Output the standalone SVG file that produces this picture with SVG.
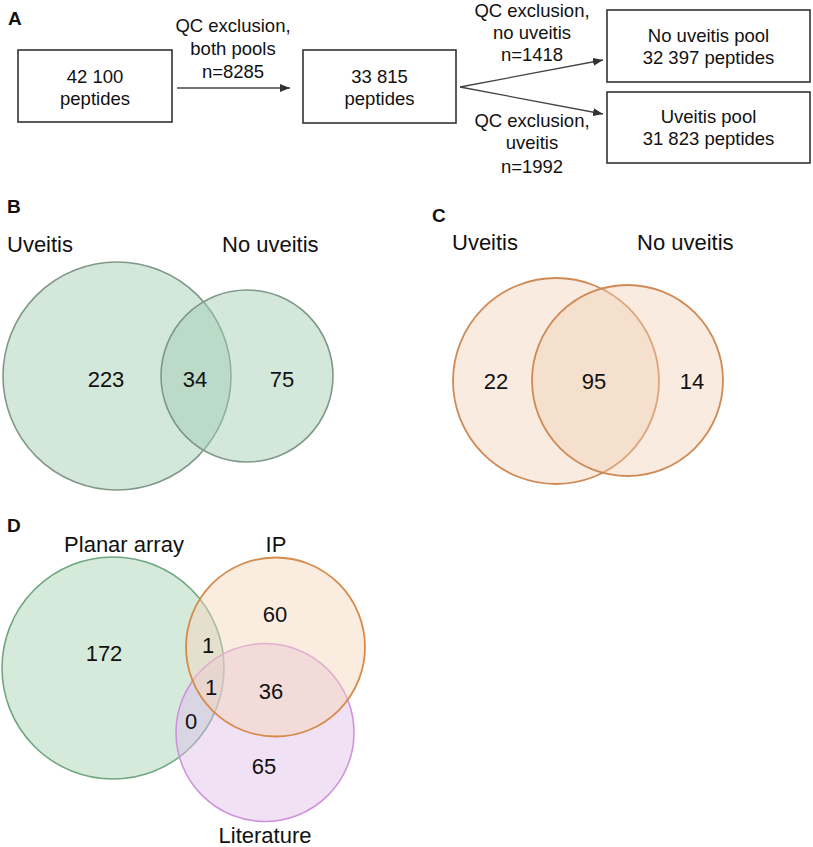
<svg xmlns="http://www.w3.org/2000/svg" width="813" height="847" viewBox="0 0 813 847">
<defs>
<marker id="arr" viewBox="0 0 10 8" refX="10" refY="4" markerWidth="10" markerHeight="8" markerUnits="userSpaceOnUse" orient="auto">
<path d="M0,0 L10,4 L0,8 Z" fill="#333"/>
</marker>
</defs>
<style>
text{font-family:"Liberation Sans",Arial,sans-serif;fill:#111}
.a{font-size:18.5px;text-anchor:middle}
.v{font-size:22px}
.m{text-anchor:middle}
.L{font-size:19px;font-weight:bold}
.box{fill:#fff;stroke:#333;stroke-width:1.6}
.con{stroke:#444;stroke-width:1.3;fill:none}
.bg{fill:rgb(163,205,180);fill-opacity:0.48;stroke:#7f9887;stroke-width:1.6}
.co{fill:rgb(240,205,178);fill-opacity:0.4;stroke:#cf8a56;stroke-width:1.8}
.dg{fill:rgb(164,208,177);fill-opacity:0.45;stroke:#6ea781;stroke-width:1.6}
.do{fill:rgb(246,213,186);fill-opacity:0.45;stroke:#d68b4a;stroke-width:1.8}
.dp{fill:rgb(224,188,233);fill-opacity:0.45;stroke:#cf93dd;stroke-width:1.6}
</style>
<rect width="813" height="847" fill="#fff"/>
<g id="labels">
<text class="L" x="8" y="25">A</text>
<text class="L" x="7" y="213">B</text>
<text class="L" x="432" y="222">C</text>
<text class="L" x="7" y="532">D</text>
</g>
<g id="connectors">
<line class="con" x1="177" y1="88" x2="290" y2="88" marker-end="url(#arr)"/>
<line class="con" x1="460" y1="87" x2="603" y2="60" marker-end="url(#arr)"/>
<line class="con" x1="460" y1="87" x2="603" y2="114" marker-end="url(#arr)"/>
<text class="a" x="233" y="32">QC exclusion,</text>
<text class="a" x="233" y="55">both pools</text>
<text class="a" x="233" y="78">n=8285</text>
<text class="a" x="532" y="17">QC exclusion,</text>
<text class="a" x="532" y="39">no uveitis</text>
<text class="a" x="532" y="61">n=1418</text>
<text class="a" x="532" y="127">QC exclusion,</text>
<text class="a" x="532" y="149">uveitis</text>
<text class="a" x="532" y="173">n=1992</text>
</g>
<g id="box1">
<rect class="box" x="18" y="50" width="154" height="72"/>
<text class="a" x="95" y="83">42 100</text>
<text class="a" x="95" y="105">peptides</text>
</g>
<g id="box2">
<rect class="box" x="303" y="50" width="153" height="73"/>
<text class="a" x="379.5" y="83">33 815</text>
<text class="a" x="379.5" y="105">peptides</text>
</g>
<g id="box3">
<rect class="box" x="607" y="10" width="203" height="72"/>
<text class="a" x="708.5" y="42">No uveitis pool</text>
<text class="a" x="708.5" y="64">32 397 peptides</text>
</g>
<g id="box4">
<rect class="box" x="607" y="92" width="203" height="71"/>
<text class="a" x="708.5" y="123">Uveitis pool</text>
<text class="a" x="708.5" y="145">31 823 peptides</text>
</g>
<g id="vennB">
<circle class="bg" cx="117" cy="376" r="114"/>
<circle class="bg" cx="247" cy="376" r="86"/>
<text class="v" x="7" y="252">Uveitis</text>
<text class="v" x="222" y="252">No uveitis</text>
<text class="v m" x="106" y="387">223</text>
<text class="v m" x="195" y="387">34</text>
<text class="v m" x="282" y="387">75</text>
</g>
<g id="vennC">
<circle class="co" cx="556" cy="381" r="103"/>
<circle class="co" cx="627.5" cy="380.5" r="95.5"/>
<text class="v" x="452" y="250">Uveitis</text>
<text class="v" x="637" y="250">No uveitis</text>
<text class="v m" x="496" y="389">22</text>
<text class="v m" x="594" y="389">95</text>
<text class="v m" x="692" y="389">14</text>
</g>
<g id="vennD">
<circle class="dg" cx="113" cy="668" r="111"/>
<circle class="dp" cx="265" cy="732.5" r="89"/>
<circle class="do" cx="275.5" cy="647" r="89.5"/>
<text class="v m" x="124" y="552">Planar array</text>
<text class="v m" x="276" y="552">IP</text>
<text class="v m" x="265" y="843">Literature</text>
<text class="v m" x="104" y="661">172</text>
<text class="v m" x="275" y="622">60</text>
<text class="v m" x="208" y="653">1</text>
<text class="v m" x="211" y="695">1</text>
<text class="v m" x="271" y="699">36</text>
<text class="v m" x="191" y="729">0</text>
<text class="v m" x="264" y="774">65</text>
</g>
</svg>
